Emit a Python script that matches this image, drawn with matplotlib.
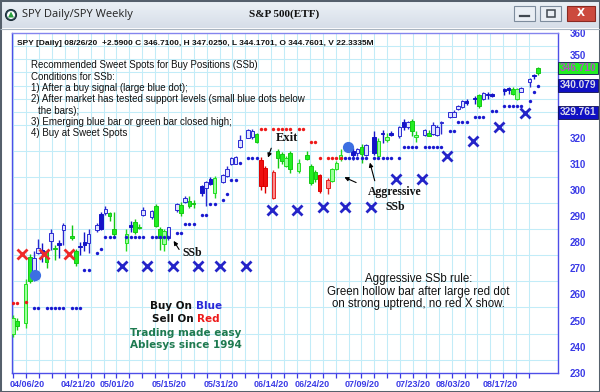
import numpy as np
import matplotlib
matplotlib.use("Agg")
import matplotlib.pyplot as plt
from matplotlib.patches import Rectangle, Circle, Polygon

# ---------------- data ----------------
slots = [0, 1, 3, 4, 5, 6, 7, 8, 9, 10, 11, 12, 14, 15, 16, 17, 18, 20, 21, 22,
         23, 24, 27, 28, 29, 30, 31, 33, 34, 35, 36, 37, 39, 40, 41, 42, 43, 45, 46, 47,
         48, 50, 51, 52, 53, 54, 56, 57, 58, 59, 60, 62, 63, 64, 65, 66, 68, 70, 71, 72,
         73, 75, 76, 77, 78, 81, 82, 83, 84, 86, 87, 88, 89, 90, 92, 93, 94, 95, 96, 98,
         99, 100, 101, 102, 104, 105, 106, 107, 108, 110, 111, 112, 113, 114, 117, 118, 119, 120, 121, 123,
         124, 125]
styles = ["g", "G", "g", "G", "b", "b", "B", "G", "b", "G", "B", "b", "G", "G", "B", "B", "b", "b", "B", "b",
          "G", "G", "g", "B", "G", "G", "b", "b", "G", "G", "g", "b", "b", "G", "b", "G", "G", "B", "b", "B",
          "g", "b", "b", "b", "b", "b", "b", "b", "G", "R", "R", "r", "G", "G", "g", "G", "g", "G", "G", "G",
          "R", "r", "g", "g", "g", "B", "b", "G", "b", "B", "g", "B", "g", "B", "b", "B", "b", "G", "g", "b",
          "G", "b", "b", "b", "b", "b", "b", "b", "B", "B", "G", "b", "B", "B", "B", "B", "G", "g", "b", "b",
          "B", "G"]
opens = [245, 250, 249, 274.3, 268, 276, 277, 276.5, 280.4, 277.6, 279.5, 284.6, 282.3, 276.5, 278.5, 280, 279.6, 284.6, 290.8, 291.2,
         291.2, 285, 279.7, 286.3, 287.7, 286, 290.4, 289.7, 293.8, 285, 279.2, 281.7, 292.3, 294.2, 295.4, 295.8, 295, 301.5, 300.9, 304.2,
         299, 303, 305.4, 309.9, 310, 316.5, 320, 320.2, 321.5, 311.5, 308.6, 297, 315, 313.7, 309.2, 314, 307.3, 313.5, 309.2, 306.7,
         305.8, 300.6, 303.5, 308, 311.8, 315, 314, 316.5, 313.5, 320.1, 313, 321.8, 319.1, 322, 320.8, 325.9, 324, 326.3, 320.2, 321.2,
         322, 321.4, 321, 325.5, 327.8, 328, 331, 331.7, 333.8, 335, 336.4, 335, 336.5, 336.3, 338.2, 338.6, 338.7, 334.9, 337.7, 341.5,
         343.8, 344.76]
highs = [252, 251, 266, 275.5, 276.5, 281.2, 279.5, 277, 285, 279, 281, 287.5, 286.5, 277.5, 280, 284, 285, 287.5, 291.5, 294,
         291.5, 291.5, 285, 288, 289, 287, 293.5, 292.5, 294.5, 286, 285, 286, 295, 295.5, 297.5, 297.5, 296, 302, 303.5, 305,
         305.5, 306, 309, 312.8, 313, 321, 323.3, 323.2, 322, 312.5, 309, 307.5, 315.5, 314.5, 313, 315, 312, 315, 310, 307.5,
         306, 304.5, 308.5, 311, 315.5, 316, 316, 317.5, 317.5, 322.7, 320, 323, 322, 322.5, 324.5, 327, 326.5, 327, 322.5, 323.5,
         323, 326, 325, 326.5, 330, 330.5, 332.5, 334.5, 335, 336, 336.8, 337.5, 337.5, 337, 339, 339.5, 339.5, 339, 339.5, 343,
         344.5, 347.025]
lows = [243.5, 246.5, 247, 264.5, 265.3, 275.5, 272.5, 270, 277, 273, 274, 279, 281, 271, 275, 276.5, 276, 284, 284.5, 290.5,
        288, 282, 276.5, 284, 283, 285, 290, 289, 286, 277, 276.5, 281, 291.5, 290, 295, 293, 293, 297.5, 294, 302,
        297, 302.5, 305, 309.5, 309.8, 316, 319.8, 319.5, 318, 300, 299, 296.5, 308.5, 310, 308.8, 306.5, 306.5, 311.5, 302, 303,
        299, 298.5, 303, 307.5, 311, 311.5, 313, 310.5, 313, 313.5, 312.5, 318, 318.5, 320.5, 320, 323, 323.5, 320.8, 318.5, 320.5,
        320.5, 321, 320.5, 321.5, 327.5, 327.8, 330.8, 331.5, 332.5, 333, 331.5, 334.5, 335, 335.5, 336.5, 336.8, 336.5, 334.5, 337.5, 339.4,
        342.5, 344.17]
closes = [251, 248, 264, 265, 274, 277.8, 276, 272.5, 283.6, 277.2, 279, 286.5, 281.5, 272, 278, 278.8, 283, 286.5, 285, 292.7,
          290, 283, 283, 286, 283.8, 285.5, 292.3, 292, 286.2, 281.7, 284.2, 285.8, 294.6, 291.2, 297, 293.8, 294.5, 298.8, 303, 302.3,
          304.7, 305.8, 308, 312.4, 312.5, 319.2, 322.8, 322.5, 318.3, 301.5, 301.5, 306.7, 312.4, 311.2, 312.4, 308, 310.5, 311.8, 302.8, 304.1,
          299.6, 303.7, 308, 310.5, 313.4, 313.3, 315.7, 313.7, 317.3, 314.3, 318.8, 321.5, 320.4, 321.2, 324, 324, 326, 322.7, 321.2, 323,
          320.8, 324.9, 324, 326, 329.7, 330, 332.3, 334.2, 333.4, 334.8, 332.3, 337, 336.3, 336.1, 338, 338.4, 336.8, 338.7, 339, 342.6,
          343.5, 346.71]

support_levels = [254.7, 269.5, 275.9, 277.2, 281.9, 283.6, 286.8, 290.3, 294.5, 296.0, 298.6, 303.7,
                  310.5, 312.4, 312.4, 316.3, 322.7, 325.9, 327.8, 330.4, 332.3, 334.2, 337.4, 340.0]
support_slots = [[5, 6, 8, 9, 10, 11, 12, 14, 15, 16], [17, 18], [20], [21],
                 [22, 23, 24, 27, 28, 29, 30, 31, 33, 34, 35, 36, 37], [39, 40], [41, 42, 43], [45, 46], [47, 48],
                 [50], [51], [52, 53], [54], [56, 57, 58],
                 [79, 80, 81, 82, 83, 84, 86, 87, 88, 89, 90, 92], [93, 94, 95, 96, 98, 99, 100, 101, 102],
                 [104, 105], [106, 107, 108], [110, 111, 112], [114, 115], [117, 118, 119, 120, 121],
                 [123], [124], [125]]
resist_levels = [256.7, 257.0, 323.3, 318.2, 312.4]
resist_slots = [[0, 1], [3], [59, 60, 62, 63, 64, 65, 66, 68, 69], [71, 72], [73, 75, 76, 77, 78]]

red_x_slots = [2.1, 7.4, 13.3]
red_x_prices = [275.3, 275.3, 275.3]
blue_x_slots = [25.9, 31.8, 38.0, 44.1, 49.3, 55.5, 61.6, 67.5, 73.7, 79.0, 85.2,
                91.2, 97.3, 103.3, 109.5, 115.8, 122.0]
blue_x_prices = [271.0, 271.0, 271.0, 271.0, 271.0, 271.0, 292.2, 292.2, 293.6, 293.6, 293.6,
                 304.1, 304.1, 313.1, 318.8, 324.0, 329.3]
buy_dot_slots = [5.3, 79.8]
buy_dot_prices = [267.3, 316.3]

date_labels = ["04/06/20", "04/21/20", "05/01/20", "05/15/20", "05/31/20", "06/14/20",
               "06/24/20", "07/09/20", "07/23/20", "08/03/20", "08/17/20"]
date_label_slots = [3.40, 15.55, 24.88, 37.14, 49.45, 61.6, 71.12, 83.02, 95.31, 104.69, 115.95]
price_ticks = [230, 240, 250, 260, 270, 280, 290, 300, 310, 320, 360]
partly_hidden_tick = 350
last_values = [346.710, 340.079, 329.761]

# ---------------- style ----------------
STY = {"G": ("#22ee22", "#14c814"), "g": ("#9cff9c", "#22dd22"),
       "B": ("#1414c8", "#1414c8"), "b": ("#dfe2ff", "#2a2ad2"),
       "R": ("#ee1010", "#dd0000"), "r": ("#ff8a8a", "#e02020")}
BLUE = "#3a3ae6"

W, H = 600, 392
fig = plt.figure(figsize=(6, 3.92), dpi=100)
fig.patch.set_facecolor("white")


def fx(px):
    return px / W


def fy(py):
    return 1 - py / H


# ---------------- window chrome ----------------
tb = fig.add_axes([0, fy(28), 1, 28 / H])
tb.axis("off")
grad = np.linspace(0, 1, 50)[:, None]
top_c = np.array([0.93, 0.95, 0.97])
bot_c = np.array([0.84, 0.87, 0.91])
img = top_c[None, None, :] * (1 - grad[..., None]) + bot_c[None, None, :] * grad[..., None]
img = np.repeat(img, 4, axis=1)
tb.imshow(img, aspect="auto", extent=[0, W, 28, 0])
tb.set_xlim(0, W)
tb.set_ylim(28, 0)
tb.add_patch(Circle((11, 15), 5.5, facecolor="#2f4f5f", edgecolor="#1c2c36", lw=0.8))
tb.add_patch(Circle((11, 15), 4.0, facecolor="white", edgecolor="none"))
tb.add_patch(Polygon([[8, 17.5], [14, 17.5], [11, 11.5]], closed=True, facecolor="#2aa040", edgecolor="none"))
tb.text(22, 15, "SPY Daily/SPY Weekly", fontsize=8, family="Open Sans", va="center", ha="left", color="#222222")
tb.text(284, 14, "S&P 500(ETF)", fontsize=8, family="Liberation Serif", fontweight="bold",
        va="center", ha="center", color="#111111")
for x0, x1 in [(514, 535), (540, 561)]:
    tb.add_patch(Rectangle((x0, 6), x1 - x0, 15, facecolor="#e9eef4", edgecolor="#7d8c9d", lw=0.8))
tb.plot([520, 529], [15.5, 15.5], color="#404850", lw=1.6)
tb.add_patch(Rectangle((546.5, 10), 8, 7, facecolor="none", edgecolor="#404850", lw=1.1))
tb.add_patch(Rectangle((567, 6), 28, 15, facecolor="#cc4a3e", edgecolor="#8a2a22", lw=0.8))
tb.text(581, 13.5, "X", fontsize=7.5, fontweight="bold", color="white", ha="center", va="center",
        family="DejaVu Sans")

# ---------------- main axes ----------------
ax_l, ax_r, ax_t, ax_b = 12.3, 557.5, 33.3, 373.3
ax = fig.add_axes([fx(ax_l), fy(ax_b), (ax_r - ax_l) / W, (ax_b - ax_t) / H])
X0, DX = 13.0, 4.2
PPU = 2.611
ax.set_xlim((ax_l - X0) / DX, (ax_r - X0) / DX)
ax.set_ylim(360 - (ax_b - ax_t) / PPU, 360)
ax.set_facecolor("white")
y_lo = ax.get_ylim()[0]

# grid
ax.set_xticks(np.arange(0.07, 124.5, 3.07), minor=True)
ax.set_yticks(np.arange(230, 361, 5), minor=True)
ax.grid(which="minor", color="#c2ecf8", lw=0.75)
ax.set_axisbelow(True)

# candles
for s, st, o, h, l, c in zip(slots, styles, opens, highs, lows, closes):
    fc, ec = STY[st]
    ax.vlines(s, l, h, color=ec, lw=1.0, zorder=3)
    bottom = min(o, c)
    height = max(abs(c - o), 0.5)
    ax.bar(s, height, bottom=bottom, width=0.88, facecolor=fc, edgecolor=ec, lw=0.7, zorder=4)

# support / resistance dots
for lvl, ss in zip(support_levels, support_slots):
    ax.scatter(ss, [lvl] * len(ss), s=6, color="#1a1ad0", zorder=5, linewidths=0)
for lvl, ss in zip(resist_levels, resist_slots):
    ax.scatter(ss, [lvl] * len(ss), s=6, color="#ee1a1a", zorder=5, linewidths=0)

# X markers and buy dots
ax.plot(red_x_slots, red_x_prices, ls="none", marker="x", ms=6.5, mew=2.0, color="#ee2a2a", zorder=5)
ax.plot(blue_x_slots, blue_x_prices, ls="none", marker="x", ms=6.5, mew=2.0, color="#2424c8", zorder=5)
ax.scatter(buy_dot_slots, buy_dot_prices, s=65, color="#3c6fe2", zorder=6, linewidths=0)

# axes styling
for sp in ax.spines.values():
    sp.set_color("#4e4ee8")
    sp.set_linewidth(1.0)
ax.spines["top"].set_color("#8484ee")

ax.set_xticks(date_label_slots)
ax.set_xticklabels(date_labels)
ax.tick_params(axis="x", which="major", length=0, pad=4.5, labelsize=6.5, labelcolor=BLUE)
ax.tick_params(axis="x", which="minor", length=3.5, width=0.9, color=BLUE, direction="out")
for t in ax.get_xticklabels():
    t.set_fontweight("bold")
    t.set_family("Liberation Sans")

ax.yaxis.tick_right()
ax.set_yticks(price_ticks)
ax.set_yticklabels([str(v) for v in price_ticks])
ax.tick_params(axis="y", which="both", length=0, pad=9, labelsize=7, labelcolor=BLUE)
for t in ax.get_yticklabels():
    t.set_fontweight("bold")
    t.set_family("Liberation Sans")
# the 350 label sits just above the last-value box (mostly hidden in the original)
ax.text(1.0 + 9 / 72 * 100 / (ax_r - ax_l), (partly_hidden_tick - y_lo) / (360 - y_lo) + 3.5 / (ax_b - ax_t),
        str(partly_hidden_tick), transform=ax.transAxes, ha="left", va="center", fontsize=7,
        fontweight="bold", family="Liberation Sans", color=BLUE, clip_on=False)

# last value boxes on the price scale
box_cols = [("#22ee22", "#b050c0"), ("#1010c4", "#d8d8e8"), ("#1010c4", "#d8d8e8")]
for v, (bc, tc) in zip(last_values, box_cols):
    ax.text(1.004, (v - y_lo) / (360 - y_lo), f"{v:.3f}",
            transform=ax.transAxes, ha="left", va="center", fontsize=7.3, fontweight="bold",
            family="Liberation Sans", color=tc, zorder=20, clip_on=False,
            bbox=dict(boxstyle="square,pad=0.14", facecolor=bc, edgecolor="#101050", lw=0.6))

# annotations (serif bold)
serif = dict(family="Liberation Serif", fontweight="bold", color="#111111", zorder=8)
ax.text(65.2, 319.8, "Exit", fontsize=9, ha="center", va="center", **serif)
ax.annotate("", xy=(60.5, 311.4), xytext=(61.7, 317.0),
            arrowprops=dict(arrowstyle="-|>", color="black", lw=0.8, mutation_scale=6), zorder=8)
ax.text(90.9, 299.1, "Aggressive", fontsize=8.5, ha="center", va="center", **serif)
ax.text(90.9, 293.6, "SSb", fontsize=8.5, ha="center", va="center", **serif)
ax.annotate("", xy=(78.3, 305.3), xytext=(82.3, 302.4),
            arrowprops=dict(arrowstyle="-|>", color="black", lw=0.8, mutation_scale=6), zorder=8)
ax.annotate("", xy=(84.8, 311.5), xytext=(86.3, 302.5),
            arrowprops=dict(arrowstyle="-|>", color="black", lw=0.8, mutation_scale=6), zorder=8)
ax.text(42.7, 275.9, "SSb", fontsize=8.5, ha="center", va="center", **serif)
ax.annotate("", xy=(37.9, 281.4), xytext=(39.9, 276.3),
            arrowprops=dict(arrowstyle="-|>", color="black", lw=0.8, mutation_scale=6), zorder=8)

# ---------------- texts in the chart ----------------
fig.text(fx(16.7), fy(43.5),
         "SPY [Daily] 08/26/20  +2.5900 C 346.7100, H 347.0250, L 344.1701, O 344.7601, V 22.3335M",
         fontsize=6, fontweight="bold", family="Liberation Sans", va="center", ha="left", color="#111111")
lines = [("Recommended Sweet Spots for Buy Positions (SSb)", 31, 65.5),
         ("Conditions for SSb:", 31, 76.5),
         ("1) After a buy signal (large blue dot);", 31, 88),
         ("2) After market has tested support levels (small blue dots below", 31, 99.5),
         ("the bars);", 38.5, 110.5),
         ("3) Emerging blue bar or green bar closed high;", 31, 122),
         ("4) Buy at Sweet Spots", 31, 133.5)]
for s, x, y in lines:
    fig.text(fx(x), fy(y), s, fontsize=7, family="Liberation Sans", va="center", ha="left", color="#111111")

for s, y in [("Aggressive SSb rule:", 279), ("Green hollow bar after large red dot", 291.7),
             ("on strong uptrend, no red X show.", 304.5)]:
    fig.text(fx(418.5), fy(y), s, fontsize=8.3, family="Liberation Sans", va="center", ha="center",
             color="#111111")

renderer = fig.canvas.get_renderer()


def two_tone(first, second, c1, c2, cx, cy, size):
    full = fig.text(0, 0, first + " " + second, fontsize=size, fontweight="bold", family="DejaVu Sans")
    sec = fig.text(0, 0, second, fontsize=size, fontweight="bold", family="DejaVu Sans")
    wf = full.get_window_extent(renderer).width
    ws = sec.get_window_extent(renderer).width
    full.remove()
    sec.remove()
    x0 = cx - wf / 2
    fig.text(fx(x0), fy(cy), first, fontsize=size, fontweight="bold", family="DejaVu Sans",
             color=c1, va="center", ha="left")
    fig.text(fx(x0 + wf - ws), fy(cy), second, fontsize=size, fontweight="bold", family="DejaVu Sans",
             color=c2, va="center", ha="left")


two_tone("Buy On", "Blue", "#111111", "#2a2ad8", 186, 306, 7.5)
two_tone("Sell On", "Red", "#111111", "#ee1a1a", 186, 318.5, 7.5)
fig.text(fx(186), fy(332.5), "Trading made easy", fontsize=7.5, fontweight="bold", family="DejaVu Sans",
         color="#1e7a50", ha="center", va="center")
fig.text(fx(186), fy(345.5), "Ablesys since 1994", fontsize=7.5, fontweight="bold", family="DejaVu Sans",
         color="#1e7a50", ha="center", va="center")

# window frame
fig.patches.append(Rectangle((0, 0), 1, 1, transform=fig.transFigure, facecolor="none",
                             edgecolor="#55606c", lw=2.2, zorder=50))
fig.patches.append(Rectangle((fx(0), fy(28.5)), 1, 0.0, transform=fig.transFigure, facecolor="none",
                             edgecolor="#a8b4c0", lw=0.8, zorder=50))

fig.savefig("out.png", dpi=100, facecolor="white")
